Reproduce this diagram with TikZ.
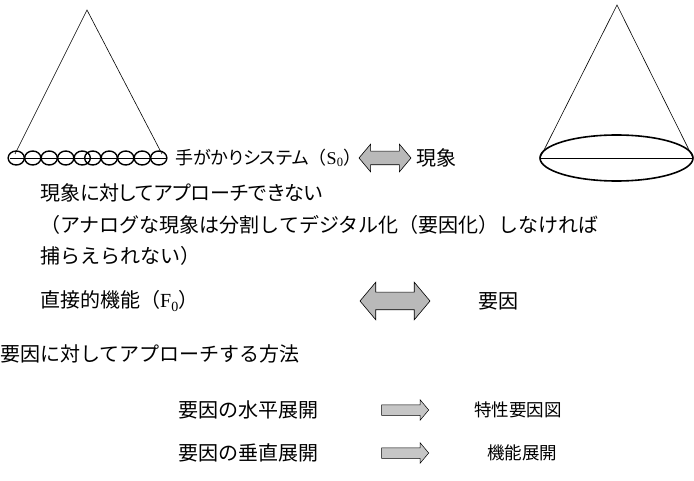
\documentclass[tikz,border=0pt]{standalone}
\usepackage{fontspec}
\setmainfont{Noto Sans CJK JP}
\newfontfamily\pjp[RawFeature=+palt]{Noto Sans CJK JP}
\newfontfamily\lat{Liberation Serif}
\usetikzlibrary{shapes.arrows}
\tikzset{
  txt/.style={anchor=west,inner sep=0pt,font=\fontsize{20}{24}\selectfont},
  ptxt/.style={anchor=west,inner sep=0pt,font=\pjp\fontsize{20}{24}\selectfont},
  darr/.style={double arrow,draw=black,fill=gray!55,inner sep=0pt,line width=0.6pt,double arrow tip angle=100},
  sarr/.style={single arrow,draw=black,fill=gray!45,inner sep=0pt,line width=0.5pt,single arrow tip angle=100},
  thin line/.style={line width=0.6pt},
  thick line/.style={line width=1.4pt}
}
\begin{document}
\begin{tikzpicture}[x=1pt,y=-1pt]
\useasboundingbox (0,0) rectangle (694,481);
% left triangle with circles
\coordinate (apexL) at (87,10);
\coordinate (baseL1) at (10,158);
\coordinate (baseL2) at (166,158);
\draw[thin line] (15,154) -- (apexL) -- (162,154);
\draw[thin line] (baseL1) -- (baseL2);
\foreach \cx in {16.25,32.75,49.25,65.75,82.25,92.75,109.25,125.75,142.25,158.75}
  \draw[thick line] (\cx,158) ellipse [x radius=8.1,y radius=7];
% right cone
\coordinate (apexR) at (617,5);
\coordinate (ellL) at (540,158);
\coordinate (ellR) at (693,158);
\draw[thin line] (ellL) -- (apexR) -- (ellR);
\draw[thin line] (ellL) -- (ellR);
\draw[line width=1.6pt] (616.5,158) ellipse [x radius=76.5,y radius=23];
% top row
\node[ptxt,font=\pjp\fontsize{18}{22}\selectfont] (hint) at (175,158) {手がかりシステム{\rmfamily（}{\lat S\textsubscript{0}}{\rmfamily ）}};
\node[darr,minimum height=52pt,double arrow head extend=7pt] (a1) at (385,158) {\rule{0pt}{13pt}};
\node[txt] (phen) at (416,158) {現象};
% paragraph
\node[ptxt] (p1) at (40,193) {現象に対してアプローチできない};
\node[txt] (p2) at (40,225) {（アナログな現象は分割してデジタル化（要因化）しなければ};
\node[txt] (p3) at (40,256) {捕らえられない）};
% direct function
\node[txt] (f0) at (40,301) {直接的機能（{\lat F\textsubscript{0}}）};
\node[darr,minimum height=70pt,double arrow head extend=10pt] (a2) at (395,301) {\rule{0pt}{17pt}};
\node[txt] (yoin) at (478,301) {要因};
% method
\node[txt] (m) at (0,354) {要因に対してアプローチする方法};
\node[txt] (h1) at (178,410) {要因の水平展開};
\node[sarr,minimum height=47pt,single arrow head extend=5pt] (a3) at (403,410) {\rule{0pt}{10pt}};
\node[txt,font=\fontsize{17.5}{21}\selectfont] (h2) at (474,410) {特性要因図};
\node[txt] (v1) at (178,453) {要因の垂直展開};
\node[sarr,minimum height=47pt,single arrow head extend=5pt] (a4) at (403,453) {\rule{0pt}{10pt}};
\node[txt,font=\fontsize{17.5}{21}\selectfont] (v2) at (487,453) {機能展開};
\end{tikzpicture}
\end{document}
